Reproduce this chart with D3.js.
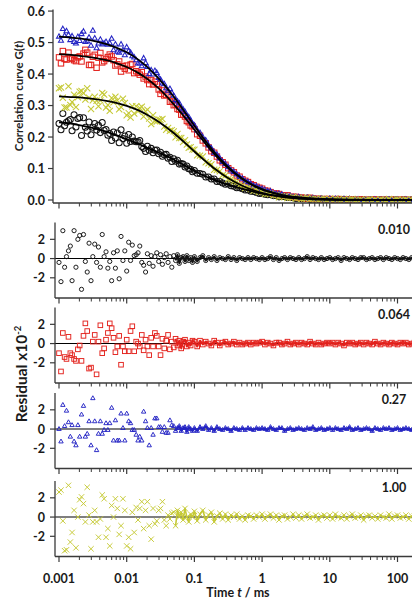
<!DOCTYPE html>
<html>
<head>
<meta charset="utf-8">
<script src="https://cdn.jsdelivr.net/npm/d3@7"></script>
<style>
  body { margin: 0; background: #fff; }
  svg { display: block; }
  text { font-family: Lato, "Open Sans", sans-serif; fill: #1a1a1a; }
</style>
</head>
<body>
<svg id="chart" width="412" height="603"></svg>
<script>
// Lag times (ms) shared by every measured curve
const lagTimes = [
  0.00100,0.00107,0.00114,0.00121,0.00129,0.00138,0.00147,0.00156,0.00167,0.00178,0.00190,0.00202,0.00215,0.00230,0.00245,0.00261,0.00278,0.00297,0.00316,0.00337,0.00359,0.00383,0.00408,0.00435,0.00464,0.00495,0.00527,0.00562,0.00599,0.00639,0.00681,0.00726,0.00774,0.00825,0.00880,0.00938,
  0.0100,0.0107,0.0114,0.0121,0.0129,0.0138,0.0147,0.0156,0.0167,0.0178,0.0190,0.0202,0.0215,0.0230,0.0245,0.0261,0.0278,0.0297,0.0316,0.0337,0.0359,0.0383,0.0408,0.0435,0.0464,0.0495,0.0527,0.0562,0.0599,0.0639,0.0681,0.0726,0.0774,0.0825,0.0880,0.0938,
  0.100,0.110,0.121,0.133,0.147,0.162,0.178,0.196,0.215,0.237,0.261,0.287,0.316,0.348,0.383,0.422,0.464,0.511,0.562,0.619,0.681,0.750,0.825,0.909,
  1.00,1.10,1.21,1.33,1.47,1.62,1.78,1.96,2.15,2.37,2.61,2.87,3.16,3.48,3.83,4.22,4.64,5.11,5.62,6.19,6.81,7.50,8.25,9.09,
  10.0,11.0,12.1,13.3,14.7,16.2,17.8,19.6,21.5,23.7,26.1,28.7,31.6,34.8,38.3,42.2,46.4,51.1,56.2,61.9,68.1,75.0,82.5,90.9,
  100,110,121,133,147,162,178
];

// Measured correlation G(t)
const gBlack = [
  0.243,0.223,0.275,0.236,0.247,0.252,0.256,0.220,0.271,0.232,0.259,0.262,0.205,0.261,0.231,0.219,0.248,0.207,0.231,0.243,0.222,0.237,0.214,0.246,0.221,0.224,0.206,0.211,0.189,0.216,0.197,0.213,0.182,0.223,0.195,0.203,
  0.180,0.208,0.186,0.200,0.187,0.185,0.185,0.189,0.170,0.164,0.154,0.171,0.158,0.164,0.150,0.158,0.159,0.147,0.152,0.139,0.144,0.145,0.133,0.136,0.122,0.131,0.123,0.126,0.114,0.116,0.114,0.105,0.108,0.099,0.098,0.090,
  0.094,0.085,0.084,0.082,0.073,0.073,0.067,0.067,0.059,0.059,0.054,0.050,0.051,0.045,0.044,0.039,0.039,0.036,0.032,0.032,0.028,0.027,0.024,0.021,
  0.021,0.018,0.017,0.018,0.014,0.014,0.010,0.011,0.011,0.008,0.009,0.007,0.005,0.006,0.004,0.004,0.006,0.002,0.004,0.002,0.001,0.003,0.001,0.001,
  0.002,0.000,0.001,0.002,-0.001,0.002,0.001,-0.001,0.001,0.000,-0.001,0.001,0.001,-0.001,0.000,0.001,-0.001,0.000,0.001,-0.001,0.001,0.000,-0.001,0.001,
  0.000,-0.001,0.001,0.000,-0.001,0.001,0.000
];
const gRed = [
  0.453,0.434,0.473,0.448,0.446,0.468,0.451,0.448,0.444,0.441,0.453,0.456,0.440,0.465,0.477,0.468,0.429,0.429,0.455,0.461,0.420,0.452,0.467,0.437,0.441,0.448,0.454,0.462,0.456,0.444,0.427,0.431,0.440,0.408,0.425,0.417,
  0.427,0.412,0.430,0.432,0.403,0.409,0.404,0.398,0.406,0.386,0.392,0.381,0.368,0.381,0.367,0.376,0.368,0.351,0.337,0.348,0.332,0.334,0.334,0.312,0.313,0.301,0.303,0.289,0.287,0.271,0.271,0.265,0.251,0.247,0.237,0.234,
  0.225,0.209,0.204,0.189,0.180,0.167,0.155,0.150,0.138,0.126,0.120,0.112,0.101,0.094,0.088,0.078,0.074,0.066,0.061,0.057,0.050,0.047,0.042,0.039,
  0.036,0.030,0.029,0.025,0.020,0.021,0.019,0.015,0.014,0.015,0.010,0.010,0.010,0.007,0.008,0.006,0.005,0.007,0.004,0.003,0.004,0.002,0.003,0.003,
  0.002,0.003,0.001,0.003,0.001,-0.001,0.002,0.001,0.002,0.000,0.001,0.002,-0.001,0.001,0.000,-0.001,0.002,0.000,-0.001,0.001,0.000,-0.001,0.001,0.000,
  -0.001,0.001,0.000,0.001,-0.001,0.000,0.001
];
const gBlue = [
  0.519,0.506,0.543,0.521,0.536,0.524,0.508,0.520,0.502,0.497,0.518,0.505,0.527,0.535,0.502,0.504,0.516,0.490,0.538,0.513,0.482,0.497,0.509,0.494,0.497,0.502,0.493,0.498,0.512,0.476,0.494,0.471,0.468,0.494,0.476,0.460,
  0.485,0.473,0.468,0.457,0.453,0.444,0.434,0.434,0.425,0.450,0.435,0.423,0.400,0.412,0.399,0.410,0.404,0.388,0.382,0.370,0.368,0.355,0.347,0.353,0.340,0.331,0.318,0.313,0.307,0.293,0.288,0.280,0.267,0.263,0.253,0.242,
  0.237,0.221,0.213,0.199,0.189,0.173,0.164,0.150,0.144,0.132,0.121,0.114,0.104,0.094,0.089,0.081,0.073,0.068,0.060,0.057,0.051,0.045,0.043,0.038,
  0.035,0.031,0.027,0.027,0.022,0.019,0.019,0.017,0.012,0.012,0.012,0.009,0.009,0.009,0.007,0.005,0.006,0.005,0.006,0.003,0.003,0.004,0.001,0.002,
  0.003,0.001,0.003,0.001,0.000,0.002,0.001,0.003,0.000,0.001,0.002,-0.001,0.000,0.001,0.000,-0.002,0.001,0.000,-0.001,0.001,0.000,0.001,-0.001,0.000,
  0.001,-0.001,0.000,0.001,0.000,-0.001,0.001
];
const gYellow = [
  0.355,0.357,0.325,0.294,0.294,0.361,0.302,0.311,0.334,0.295,0.326,0.344,0.346,0.339,0.319,0.355,0.325,0.289,0.317,0.328,0.315,0.298,0.316,0.340,0.335,0.294,0.302,0.283,0.324,0.310,0.328,0.316,0.288,0.295,0.322,0.308,
  0.269,0.276,0.262,0.298,0.275,0.298,0.282,0.292,0.296,0.265,0.281,0.287,0.259,0.241,0.269,0.250,0.249,0.256,0.254,0.257,0.233,0.223,0.229,0.220,0.222,0.218,0.199,0.210,0.197,0.197,0.184,0.190,0.176,0.166,0.168,0.160,
  0.160,0.142,0.141,0.138,0.120,0.117,0.113,0.096,0.095,0.091,0.079,0.078,0.066,0.066,0.059,0.057,0.047,0.046,0.038,0.040,0.035,0.029,0.030,0.025,
  0.026,0.019,0.020,0.020,0.014,0.015,0.009,0.012,0.011,0.006,0.007,0.010,0.005,0.007,0.003,0.005,0.007,0.002,0.003,0.004,-0.001,0.003,0.004,0.000,
  0.003,-0.001,0.004,0.001,0.000,0.003,-0.001,0.002,0.003,-0.001,0.000,0.002,-0.003,0.001,0.002,-0.001,0.001,-0.002,0.002,0.000,-0.001,0.003,-0.002,0.001,
  0.002,-0.001,0.000,0.002,-0.002,0.001,0.001
];

// Fit residuals (x10^-2)
const residBlack = [
  -0.4,-2.4,2.9,-0.9,0.2,0.8,1.3,-2.3,2.9,-0.9,2.0,2.4,-3.2,2.5,-0.3,-1.4,1.6,-2.3,0.2,1.5,-0.4,1.2,-0.9,2.5,0.2,0.7,-1.0,-0.3,-2.3,0.6,-1.0,0.8,-2.1,2.3,-0.2,0.8,
  -1.3,1.7,-0.2,1.4,0.3,0.4,0.6,1.3,-0.4,-0.7,-1.4,0.5,-0.5,0.3,-0.8,0.2,0.6,-0.3,0.4,-0.6,0.1,0.5,-0.4,0.2,-0.9,0.3,-0.2,0.4,-0.5,0.1,0.2,-0.3,0.3,-0.2,0.1,-0.4,
  0.2,-0.3,0.1,0.3,-0.2,0.1,-0.1,0.2,-0.2,0.1,0.0,-0.1,0.2,-0.1,0.1,-0.2,0.1,0.0,-0.1,0.1,-0.1,0.1,0.0,-0.1,
  0.1,-0.1,0.0,0.2,-0.1,0.1,-0.2,0.0,0.1,-0.1,0.1,0.0,-0.1,0.1,-0.1,0.0,0.2,-0.1,0.1,0.0,-0.1,0.1,-0.1,0.0,
  0.1,-0.1,0.0,0.1,-0.2,0.1,0.0,-0.1,0.1,0.0,-0.1,0.1,0.1,-0.1,0.0,0.1,-0.1,0.0,0.1,-0.1,0.1,0.0,-0.1,0.1,
  0.0,-0.1,0.1,0.0,-0.1,0.1,0.0
];
const residRed = [
  -1.0,-2.9,1.1,-1.4,-1.6,0.7,-1.0,-1.2,-1.6,-1.8,-0.6,-0.2,-1.8,0.8,2.1,1.3,-2.6,-2.5,0.2,0.9,-3.2,0.2,1.9,-1.0,-0.5,0.4,1.1,2.1,1.6,0.6,-0.9,-0.3,0.8,-2.2,-0.3,-0.8,
  0.4,-0.8,1.3,1.8,-0.8,0.2,0.0,-0.3,0.9,-0.7,0.4,-0.3,-1.2,0.6,-0.3,1.1,0.8,-0.3,-1.2,0.5,-0.5,0.3,0.9,-0.6,0.2,-0.4,0.5,-0.2,0.3,-0.5,0.2,0.4,-0.3,0.1,-0.2,0.3,
  0.2,-0.3,0.3,-0.1,0.2,0.0,-0.2,0.3,0.1,-0.2,0.1,0.2,-0.1,0.0,0.2,-0.1,0.1,-0.1,0.0,0.1,-0.1,0.1,0.0,0.1,
  0.2,-0.1,0.1,0.0,-0.2,0.1,0.1,-0.1,0.0,0.2,-0.1,0.0,0.1,-0.1,0.1,0.0,-0.1,0.2,0.0,-0.1,0.1,-0.1,0.0,0.1,
  0.0,0.1,-0.1,0.1,0.0,-0.2,0.1,0.0,0.1,-0.1,0.0,0.1,-0.1,0.1,0.0,-0.1,0.2,0.0,-0.1,0.1,0.0,-0.1,0.1,0.0,
  -0.1,0.1,0.0,0.1,-0.1,0.0,0.1
];
const residBlue = [
  0.0,-1.3,2.5,0.3,1.9,0.7,-0.8,0.4,-1.3,-1.7,0.4,-0.8,1.5,2.4,-0.8,-0.5,0.8,-1.7,3.2,0.8,-2.2,-0.5,0.8,-0.5,-0.1,0.6,-0.1,0.6,2.2,-1.2,0.9,-1.2,-1.2,1.6,0.1,-1.2,
  1.6,0.8,0.6,-0.1,-0.1,-0.6,-1.2,-0.8,-1.2,1.8,0.8,0.1,-1.7,0.1,-0.6,1.1,1.1,0.2,0.2,-0.3,0.2,-0.4,-0.4,0.9,0.4,0.3,-0.2,0.1,0.3,-0.2,0.1,0.2,-0.3,0.2,0.0,-0.2,
  0.1,-0.2,0.2,0.0,0.3,-0.1,0.1,-0.2,0.2,0.0,-0.1,0.1,0.0,-0.2,0.1,0.0,-0.1,0.1,-0.1,0.1,0.0,-0.1,0.1,0.0,
  0.1,0.0,-0.1,0.2,0.0,-0.1,0.1,0.1,-0.2,0.0,0.1,-0.1,0.0,0.1,0.0,-0.1,0.1,0.0,0.2,-0.1,0.0,0.1,-0.1,0.0,
  0.1,-0.1,0.1,0.0,-0.1,0.1,0.0,0.2,-0.1,0.0,0.1,-0.1,0.0,0.1,0.0,-0.2,0.1,0.0,-0.1,0.1,0.0,0.1,-0.1,0.0,
  0.1,-0.1,0.0,0.1,0.0,-0.1,0.1
];
const residYellow = [
  2.6,2.8,-0.4,-3.5,-3.4,3.3,-2.6,-1.6,0.7,-3.2,0.0,1.8,2.1,1.4,-0.5,3.1,0.2,-3.3,-0.5,0.7,-0.5,-2.1,-0.2,2.3,1.9,-2.1,-1.2,-3.0,1.2,0.0,1.9,0.9,-1.8,-0.9,1.9,0.7,
  -3.0,-2.1,-3.3,0.5,-1.6,1.0,-0.3,0.9,1.6,-1.2,0.7,1.6,-0.9,-2.3,0.9,-0.7,-0.4,0.7,0.9,1.6,-0.3,-0.9,0.2,-0.2,0.4,0.5,-0.9,0.7,0.0,0.5,-0.3,0.9,0.0,-0.5,0.3,0.0,
  0.6,-0.4,0.3,0.7,-0.3,0.2,0.5,-0.5,0.1,0.4,-0.2,0.3,-0.3,0.2,0.0,0.3,-0.2,0.1,-0.3,0.2,0.1,-0.2,0.2,0.0,
  0.3,-0.2,0.1,0.3,-0.1,0.2,-0.3,0.1,0.2,-0.2,0.0,0.3,-0.1,0.2,-0.2,0.1,0.3,-0.1,0.0,0.2,-0.3,0.1,0.2,-0.1,
  0.2,-0.2,0.3,0.0,-0.1,0.2,-0.2,0.1,0.3,-0.1,0.0,0.2,-0.3,0.1,0.2,-0.1,0.1,-0.2,0.2,0.0,-0.1,0.3,-0.2,0.1,
  0.2,-0.1,0.0,0.2,-0.2,0.1,0.1
];

// Fitted model curves
const fitTimes = [0.001,0.0015,0.002,0.003,0.005,0.007,0.01,0.015,0.02,0.03,0.05,0.07,0.1,0.15,0.2,0.3,0.5,0.7,1,1.5,2,3,5,10,20,50,100,200];
const fitBlack  = [0.247,0.243,0.238,0.230,0.217,0.206,0.193,0.178,0.166,0.150,0.128,0.111,0.092,0.074,0.063,0.050,0.036,0.028,0.020,0.014,0.010,0.006,0.003,0.0012,0.0004,0.0001,0,0];
const fitRed    = [0.463,0.461,0.458,0.453,0.444,0.435,0.4225,0.403,0.385,0.3535,0.303,0.266,0.223,0.176,0.145,0.106,0.068,0.049,0.034,0.022,0.0156,0.0095,0.005,0.0019,0.0007,0.0002,0.0001,0];
const fitBlue   = [0.519,0.516,0.513,0.507,0.495,0.484,0.469,0.445,0.423,0.385,0.327,0.283,0.236,0.184,0.150,0.109,0.069,0.049,0.034,0.022,0.015,0.009,0.005,0.002,0.001,0.0002,0.0001,0];
const fitYellow = [0.329,0.327,0.326,0.322,0.315,0.3085,0.299,0.2845,0.271,0.248,0.212,0.1845,0.154,0.121,0.099,0.072,0.046,0.033,0.023,0.0146,0.0104,0.0064,0.0033,0.0013,0.0005,0.0001,0,0];

// Labels
const residLabels = ["0.010", "0.064", "0.27", "1.00"];
const gTicks = [0, 0.1, 0.2, 0.3, 0.4, 0.5, 0.6];
const gTickLabels = ["0.0", "0.1", "0.2", "0.3", "0.4", "0.5", "0.6"];
const residTicks = [2, 0, -2];
const residTickLabels = ["2", "0", "-2"];
const timeTicks = [0.001, 0.01, 0.1, 1, 10, 100];
const timeTickLabels = ["0.001", "0.01", "0.1", "1", "10", "100"];

const series = [
  { name: "black",  color: "#141414", shape: "circle",   g: gBlack,  resid: residBlack,  fit: fitBlack,  label: residLabels[0] },
  { name: "red",    color: "#e3221d", shape: "square",   g: gRed,    resid: residRed,    fit: fitRed,    label: residLabels[1] },
  { name: "blue",   color: "#2424c4", shape: "triangle", g: gBlue,   resid: residBlue,   fit: fitBlue,   label: residLabels[2] },
  { name: "yellow", color: "#c5c935", shape: "cross",    g: gYellow, resid: residYellow, fit: fitYellow, label: residLabels[3] }
];

const svg = d3.select("#chart");
const W = 412;
const axisColor = "#3a3a3a";

const x = d3.scaleLog().domain([0.001, 100]).range([59, 397.5]);

// marker shapes centred on the origin
const shapeDraw = {
  circle:   (sel, s) => sel.append("circle").attr("r", s),
  square:   (sel, s) => sel.append("rect").attr("x", -s).attr("y", -s).attr("width", 2 * s).attr("height", 2 * s),
  triangle: (sel, s) => sel.append("path").attr("d", `M0,${-s * 1.2}L${s * 1.05},${s * 0.65}L${-s * 1.05},${s * 0.65}Z`),
  cross:    (sel, s) => sel.append("path").attr("d", `M${-s},${-s}L${s},${s}M${-s},${s}L${s},${-s}`)
};

// closely packed long-lag points merge into a continuous band
function drawBand(layer, s, yScale, values, fromT, width) {
  const pts = lagTimes.map((t, i) => [t, values[i]]).filter(d => d[0] >= fromT);
  layer.append("path")
    .attr("d", d3.line().x(d => x(d[0])).y(d => yScale(d[1]))(pts))
    .attr("fill", "none").attr("stroke", s.color).attr("stroke-width", width)
    .attr("stroke-linejoin", "round");
}

function drawMarkers(layer, s, yScale, values, size, sw) {
  const pts = lagTimes.map((t, i) => [t, values[i]]);
  layer.append("g")
    .attr("fill", "none")
    .attr("stroke", s.color)
    .attr("stroke-width", sw)
    .selectAll("g")
    .data(pts)
    .join("g")
    .attr("transform", d => `translate(${x(d[0]).toFixed(2)},${yScale(d[1]).toFixed(2)})`)
    .each(function () { shapeDraw[s.shape](d3.select(this), size); });
}

function drawTimeAxis(yLine, leftX, withLabels) {
  const g = svg.append("g");
  g.append("line").attr("x1", leftX).attr("x2", W + 2).attr("y1", yLine).attr("y2", yLine)
    .attr("stroke", axisColor).attr("stroke-width", 1.3);
  const minor = x.ticks().filter(t => !timeTicks.includes(t));
  g.selectAll("line.minor").data(minor).join("line").attr("class", "minor")
    .attr("x1", d => x(d)).attr("x2", d => x(d)).attr("y1", yLine).attr("y2", yLine + 3.5)
    .attr("stroke", axisColor).attr("stroke-width", 1);
  g.selectAll("line.major").data(timeTicks).join("line").attr("class", "major")
    .attr("x1", d => x(d)).attr("x2", d => x(d)).attr("y1", yLine).attr("y2", yLine + 5.5)
    .attr("stroke", axisColor).attr("stroke-width", 1.2);
  if (withLabels) {
    g.selectAll("text").data(timeTicks).join("text")
      .attr("x", d => x(d)).attr("y", yLine + 26).attr("text-anchor", "middle")
      .attr("font-size", 12.5).attr("font-weight", 700)
      .text((d, i) => timeTickLabels[i]);
  }
}

function drawValueAxis(axisX, y0, y1, yScale, ticks, labels) {
  const g = svg.append("g");
  g.append("line").attr("x1", axisX).attr("x2", axisX).attr("y1", y0).attr("y2", y1)
    .attr("stroke", axisColor).attr("stroke-width", 1.3);
  g.selectAll("line.tk").data(ticks).join("line").attr("class", "tk")
    .attr("x1", axisX - 5).attr("x2", axisX).attr("y1", d => yScale(d)).attr("y2", d => yScale(d))
    .attr("stroke", axisColor).attr("stroke-width", 1.2);
  g.selectAll("text").data(ticks).join("text")
    .attr("x", 45).attr("y", d => yScale(d)).attr("dy", "0.36em")
    .attr("text-anchor", "end").attr("font-size", 12.5).attr("font-weight", 700)
    .text((d, i) => labels[i]);
}

// ---- correlation curves ----
const topY0 = 9.5, topY1 = 203;
const yG = d3.scaleLinear().domain([-0.0095, 0.605]).range([topY1, topY0]);

const clip = svg.append("defs");
clip.append("clipPath").attr("id", "clip-top")
  .append("rect").attr("x", 53).attr("y", 0).attr("width", W).attr("height", topY1);

const topLayer = svg.append("g").attr("clip-path", "url(#clip-top)");
const topSize = { circle: 3.0, square: 2.7, triangle: 2.4, cross: 3.1 };
["black", "red", "blue", "yellow"].forEach(n => {
  const s = series.find(d => d.name === n);
  drawBand(topLayer, s, yG, s.g, 0.15, 2.2);
  drawMarkers(topLayer, s, yG, s.g, topSize[s.shape], 1.05);
});
const fitLine = d3.line().x(d => x(d[0])).y(d => yG(d[1])).curve(d3.curveMonotoneX);
series.forEach(s => {
  topLayer.append("path")
    .attr("d", fitLine(fitTimes.map((t, i) => [t, s.fit[i]])))
    .attr("fill", "none").attr("stroke", "#000").attr("stroke-width", 1.8);
});
drawValueAxis(53, topY0, topY1, yG, gTicks, gTickLabels);
drawTimeAxis(topY1, 53, false);

// ---- residual panels ----
const panelTops = [222.5, 307.5, 393, 481];
const panelH = 75.5;
const residSize = { circle: 2.1, square: 2.3, triangle: 2.1, cross: 2.7 };

series.forEach((s, k) => {
  const top = panelTops[k], bottom = top + panelH;
  const yR = d3.scaleLinear().domain([-4.1, 3.75]).range([bottom, top]);
  clip.append("clipPath").attr("id", `clip-r${k}`)
    .append("rect").attr("x", 55).attr("y", top - 4).attr("width", W).attr("height", panelH + 4);
  const layer = svg.append("g").attr("clip-path", `url(#clip-r${k})`);
  layer.append("line").attr("x1", 55).attr("x2", W + 2).attr("y1", yR(0)).attr("y2", yR(0))
    .attr("stroke", "#000").attr("stroke-width", 1.1);
  drawBand(layer, s, yR, s.resid, 0.05, s.name === "yellow" ? 1.6 : 2.0);
  drawMarkers(layer, s, yR, s.resid, residSize[s.shape], 0.95);
  drawValueAxis(55, top, bottom, yR, residTicks, residTickLabels);
  drawTimeAxis(bottom, 55, k === series.length - 1);
  svg.append("text").attr("x", 394).attr("y", top + 11).attr("text-anchor", "middle")
    .attr("font-size", 12.5).attr("font-weight", 700).text(s.label);
});

// ---- axis titles ----
const yTitle = svg.append("text")
  .attr("transform", "translate(23,96) rotate(-90)")
  .attr("text-anchor", "middle").attr("font-size", 11.5).attr("font-weight", 700)
  .style("fill", "#222");
yTitle.append("tspan").text("Correlation curve G(");
yTitle.append("tspan").attr("font-style", "italic").text("t");
yTitle.append("tspan").text(")");

const rTitle = svg.append("text")
  .attr("transform", "translate(27,374) rotate(-90)")
  .attr("text-anchor", "middle").attr("font-size", 15.5).attr("font-weight", 700);
rTitle.append("tspan").text("Residual x10");
rTitle.append("tspan").attr("font-size", 9.5).attr("dy", -6).text("-2");

const xTitle = svg.append("text")
  .attr("x", 238).attr("y", 597).attr("text-anchor", "middle")
  .attr("font-size", 12.5).attr("font-weight", 700);
xTitle.append("tspan").text("Time ");
xTitle.append("tspan").attr("font-style", "italic").text("t");
xTitle.append("tspan").text(" / ms");
</script>
</body>
</html>
